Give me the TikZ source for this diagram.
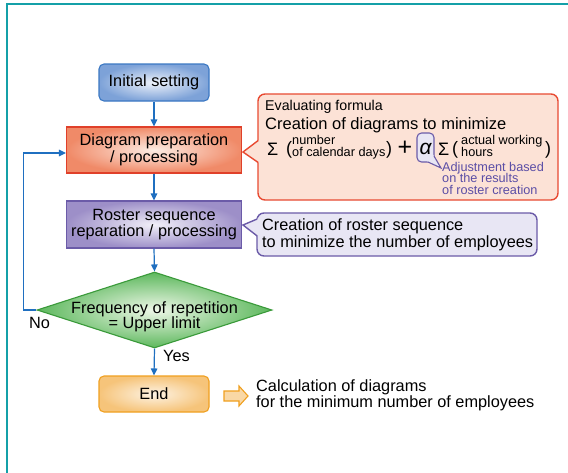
\documentclass[tikz,border=0pt]{standalone}
\usepackage{fontspec}
\setmainfont{Liberation Sans}
\usetikzlibrary{arrows.meta,shapes.geometric}
\definecolor{frame}{HTML}{14A0A8}
\definecolor{flowblue}{HTML}{1F6FC0}
\definecolor{initC}{HTML}{7DA2D8}\definecolor{initI}{HTML}{EEF2FA}\definecolor{initB}{HTML}{3B78C3}
\definecolor{dpC}{HTML}{F08A68}\definecolor{dpI}{HTML}{FDEDE4}\definecolor{dpB}{HTML}{E0402A}
\definecolor{rsC}{HTML}{9D8FC8}\definecolor{rsI}{HTML}{F1EFF8}\definecolor{rsB}{HTML}{6B5BA8}
\definecolor{diaC}{HTML}{5DB85D}\definecolor{diaI}{HTML}{EEF7E8}\definecolor{diaB}{HTML}{3A9A3A}
\definecolor{endC}{HTML}{F6C47A}\definecolor{endI}{HTML}{FDF3E4}\definecolor{endB}{HTML}{F0A020}
\definecolor{harrow}{HTML}{F9D8A6}
\definecolor{fcFill}{HTML}{FCE2D6}\definecolor{fcB}{HTML}{E84A32}
\definecolor{rcFill}{HTML}{E8E6F4}
\definecolor{adj}{HTML}{5B4EA6}
\begin{document}
\begin{tikzpicture}[x=1pt,y=-1pt,
  box/.style={font=\fontsize{16.3}{16.5}\selectfont, align=center, inner sep=0pt, line width=1.1pt},
  flow/.style={draw=flowblue, line width=1.2pt, -{Triangle[width=6.5pt,length=7pt]}},
  lbl/.style={font=\fontsize{16.3}{16.5}\selectfont, inner sep=0pt, anchor=base west},
  smalltxt/.style={font=\fontsize{12.7}{12}\selectfont, inner sep=0pt, anchor=base west},
  bigtxt/.style={font=\fontsize{18}{18}\selectfont, inner sep=0pt, anchor=base west},
  callout/.style={line width=1.4pt, rounded corners=7pt, inner sep=0pt},
]
\useasboundingbox (0,0) rectangle (568,472);
\fill[white] (0,0) rectangle (568,472);
\draw[frame, line width=2pt] (7,473) -- (7,4) -- (569,4);

% flow boxes
\node[box, rounded corners=5pt, draw=initB, inner color=initI, outer color=initC,
  minimum width=110pt, minimum height=37pt] (init) at (154,82.5) {Initial setting};
\node[box, draw=dpB, inner color=dpI, outer color=dpC,
  minimum width=175pt, minimum height=46pt] (dp) at (154,150) {Diagram preparation\\/ processing};
\node[box, draw=rsB, inner color=rsI, outer color=rsC,
  minimum width=175pt, minimum height=47pt] (rs) at (154,224.5) {Roster sequence\\reparation / processing};
\node[diamond, draw=diaB, line width=1.1pt, inner color=diaI, outer color=diaC, inner sep=0pt,
  minimum width=235pt, minimum height=76pt] (dia) at (154.5,310) {};
\node[box] (diatext) at (154.5,316.3) {Frequency of repetition\\[-1.5pt]= Upper limit};
\node[box, rounded corners=5pt, draw=endB, inner color=endI, outer color=endC,
  minimum width=110pt, minimum height=36pt] (end) at (154,394) {End};

% connectors
\draw[flow] (init.south) -- (dp.north);
\draw[flow] (dp.south) -- (rs.north);
\draw[flow] (rs.south) -- (dia.north);
\draw[flow] (dia.south) -- (end.north);
\draw[flow] (dia.west) -- ++(-13,0) |- ([yshift=-3pt]dp.west);
\node[lbl] (no) at (29,328) {No};
\node[lbl] (yes) at (163,361) {Yes};

% result arrow and text
\draw[endB, fill=harrow, line width=1.1pt, line join=miter]
  (224,391) -- (239,391) -- (239,386) -- (248,396) -- (239,406) -- (239,401) -- (224,401) -- cycle;
\node[lbl] (calc1) at (256,391) {Calculation of diagrams};
\node[lbl] (calc2) at (256,407) {for the minimum number of employees};

% formula callout
\node[callout, draw=fcB, fill=fcFill, minimum width=300pt, minimum height=106pt] (fc) at (408,147) {};
\fill[fcFill] (243,152) -- (260,139.5) -- (260,163.5) -- cycle;
\draw[fcB, line width=1.4pt] (258.2,140.5) -- (243,152) -- (258.2,162.5);
\node[smalltxt, font=\fontsize{14.2}{14}\selectfont] (evf) at (265,110) {Evaluating formula};
\node[lbl, font=\fontsize{16.5}{16}\selectfont] (cdm) at (265,129) {Creation of diagrams to minimize};
\node[bigtxt] (sig1) at (267,155) {Σ};
\node[bigtxt] (lp1) at (286,154) {(};
\node[smalltxt] (num) at (292,144.5) {number};
\node[smalltxt] (ocd) at (292,156) {of calendar days};
\node[bigtxt] (rp1) at (386,154) {)};
\node[font=\fontsize{25}{25}\selectfont, inner sep=0pt] (plus) at (405,148.5) {+};
% alpha box with tail
\node[draw=rsB, fill=rcFill, line width=1.1pt, rounded corners=4.5pt, inner sep=0pt,
  minimum width=17pt, minimum height=29pt] (alphabox) at (425.5,147.5) {};
\fill[rcFill] (427,161) -- (441,168) -- (433,154.5) -- (431,158) -- cycle;
\draw[rsB, line width=1.1pt] (428,162) -- (441,168) -- (434,156);
\node[font=\fontsize{21}{21}\selectfont\itshape, inner sep=0pt] (alpha) at (425.5,148.5) {α};
\node[bigtxt] (sig2) at (438,155) {Σ};
\node[bigtxt] (lp2) at (452,154) {(};
\node[smalltxt] (acw) at (461,144.5) {actual working};
\node[smalltxt] (hrs) at (461,156) {hours};
\node[bigtxt] (rp2) at (545,154) {)};
\node[smalltxt, text=adj] (adj1) at (442,171) {Adjustment based};
\node[smalltxt, text=adj] (adj2) at (442,182.5) {on the results};
\node[smalltxt, text=adj] (adj3) at (442,194) {of roster creation};

% roster callout
\node[callout, draw=rsB, fill=rcFill, minimum width=280pt, minimum height=43pt] (rc) at (397,234.5) {};
\fill[rcFill] (243,225) -- (259,218) -- (259,237) -- cycle;
\draw[rsB, line width=1.4pt] (257.2,219) -- (243,225) -- (257.2,236);
\node[font=\fontsize{16.3}{14}\selectfont, align=left, inner sep=0pt, anchor=west] (rctext) at (262,234.8)
  {Creation of roster sequence\\to minimize the number of employees};
\end{tikzpicture}
\end{document}
